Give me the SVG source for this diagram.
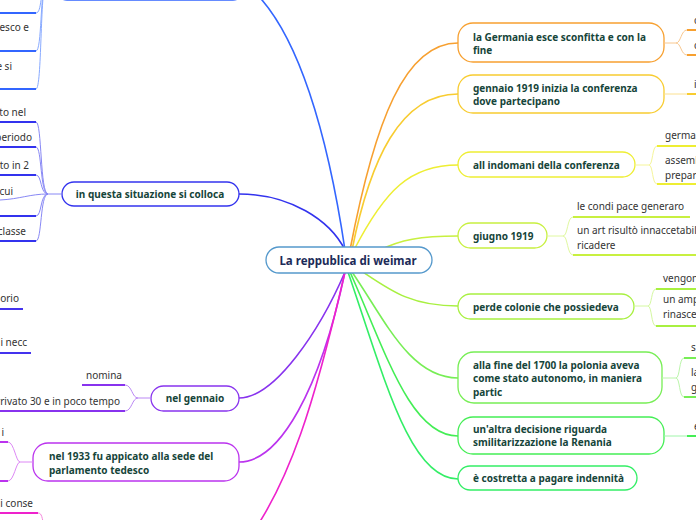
<svg xmlns="http://www.w3.org/2000/svg" width="696" height="520" viewBox="0 0 696 520">
<style>
text{font-family:"Noto Sans","Open Sans","DejaVu Sans",sans-serif}
.m{font-size:10px;font-weight:bold;fill:#16453a}
.c{font-size:10px;fill:#333}
.ct{font-size:11.5px;font-weight:bold;fill:#1c2b58}
.n{fill:#fff;stroke-width:1.3}
.cn{fill:none;stroke-width:1.6;stroke-linecap:round}
.br{fill:none;stroke-width:1}
.ul{fill:none;stroke-width:2}
</style>
<rect width="696" height="520" fill="#fff"/>
<g id="connectors">
<path class="cn" stroke="#3366ff" d="M345 250 C330 150,300 20,240 -20"/>
<path class="cn" stroke="#3333ee" d="M345 250 C330 220,290 194,239 194"/>
<path class="cn" stroke="#8833ee" d="M345 272 C320 330,275 398,239 398"/>
<path class="cn" stroke="#bb33ee" d="M345 272 C320 390,280 462,239 462"/>
<path class="cn" stroke="#ee22cc" d="M345 272 C320 380,290 500,230 560"/>
<path class="cn" stroke="#f7a030" d="M350 250 C375 120,405 43,458 43"/>
<path class="cn" stroke="#f8cc30" d="M352 250 C370 160,400 94,458 94"/>
<path class="cn" stroke="#eeee33" d="M354 250 C385 190,410 165,458 165"/>
<path class="cn" stroke="#c8f040" d="M380 250 C400 240,420 236,458 236"/>
<path class="cn" stroke="#a8f040" d="M360 270 C390 290,410 306,458 306"/>
<path class="cn" stroke="#77ee55" d="M352 272 C385 320,410 378,458 378"/>
<path class="cn" stroke="#44ee55" d="M350 272 C385 350,410 436,458 436"/>
<path class="cn" stroke="#33ee66" d="M348 272 C385 380,410 479,458 479"/>
</g>
<g id="center">
<rect class="n" x="266" y="247" width="166" height="26" rx="13" stroke="#5599cc"/>
<text class="ct" x="348" y="265" text-anchor="middle">La reppublica di weimar</text>
</g>
<g id="n-top">
<rect class="n" x="55" y="-40" width="190" height="40" rx="12" stroke="#3366ff"/>
<path class="br" stroke="#88aaff" d="M36 13 C42 13,40 -10,46 -20 M36 51 C42 51,40 -10,46 -20 M36 89 C42 89,40 -10,46 -20"/>
<path class="ul" stroke="#3366ff" d="M0 13 H36 M0 51 H36 M0 89 H36"/>
<text class="c" x="29" y="31" text-anchor="end">esco e</text>
<text class="c" x="12" y="70" text-anchor="end">e si</text>
</g>
<g id="n-situazione">
<rect class="n" x="62" y="182" width="177" height="24" rx="12" stroke="#3333ee"/>
<text class="m" x="150" y="198" text-anchor="middle">in questa situazione si colloca</text>
<path class="br" stroke="#8888f5" d="M62 194 H48 M48 194 C40 194,42 122,36 122 M48 194 C40 194,42 147,36 147 M48 194 C40 194,42 175,36 175 M48 194 C30 194,20 199,0 200 M48 194 C40 194,42 216,36 216 M48 194 C40 194,42 241,36 241"/>
<path class="ul" stroke="#3333ee" d="M0 122 H36 M0 147 H36 M0 175 H36 M0 216 H36 M0 241 H36"/>
<text class="c" x="26" y="116" text-anchor="end">to nel</text>
<text class="c" x="32" y="141" text-anchor="end">periodo</text>
<text class="c" x="29" y="169" text-anchor="end">to in 2</text>
<text class="c" x="13" y="195" text-anchor="end">cui</text>
<text class="c" x="26" y="235" text-anchor="end">classe</text>
</g>
<g id="n-left-mid">
<path class="ul" stroke="#4433ee" d="M0 309 H23 M0 353 H31"/>
<text class="c" x="19" y="302" text-anchor="end">orio</text>
<text class="c" x="27" y="346" text-anchor="end">i necc</text>
</g>
<g id="n-gennaio">
<rect class="n" x="151" y="386" width="88" height="25" rx="12.5" stroke="#8833ee"/>
<text class="m" x="195" y="402" text-anchor="middle">nel gennaio</text>
<path class="br" stroke="#bb88f5" d="M151 398 H138 M138 398 C132 398,132 385,125 385 M138 398 C132 398,132 411,125 411"/>
<path class="ul" stroke="#8833ee" d="M82 385 H125 M0 411 H125"/>
<text class="c" x="86" y="379">nomina</text>
<text class="c" x="120" y="405" text-anchor="end">rrivato 30 e in poco tempo</text>
</g>
<g id="n-1933">
<rect class="n" x="33" y="443" width="206" height="38" rx="15" stroke="#bb33ee"/>
<text class="m" x="49" y="460">nel 1933 fu appicato alla sede del</text>
<text class="m" x="49" y="474">parlamento tedesco</text>
<path class="br" stroke="#dd88f5" d="M33 462 H20 M20 462 C16 462,14 442,8 442 M20 462 C16 462,14 481,8 481"/>
<path class="ul" stroke="#bb33ee" d="M0 442 H8 M0 481 H8"/>
<text class="c" x="4" y="436" text-anchor="end">i</text>
</g>
<g id="n-bottom">
<path class="br" stroke="#f588dd" d="M38 513 C42 513,42 518,44 526"/>
<path class="ul" stroke="#ee22cc" d="M0 513 H38"/>
<text class="c" x="33" y="507" text-anchor="end">i conse</text>
</g>
<g id="n-germania">
<rect class="n" x="458" y="23" width="206" height="39" rx="15" stroke="#f7a030"/>
<text class="m" x="473" y="40.5">la Germania esce sconfitta e con la</text>
<text class="m" x="473" y="53.5">fine</text>
<path class="br" stroke="#f8c890" d="M664 43 H676 M676 43 C681 43,681 30,687 30 M676 43 C681 43,681 55,687 55"/>
<path class="ul" stroke="#f7a030" d="M687 30 H700 M687 55 H700"/>
<text class="c" x="694" y="24">c</text>
<text class="c" x="694" y="49">c</text>
</g>
<g id="n-conferenza">
<rect class="n" x="458" y="75" width="206" height="38" rx="15" stroke="#f8cc30"/>
<text class="m" x="473" y="91.5">gennaio 1919 inizia la conferenza</text>
<text class="m" x="473" y="104.5">dove partecipano</text>
<path class="br" stroke="#fbe090" d="M664 94 H687"/>
<path class="ul" stroke="#f8cc30" d="M687 94 H700"/>
<text class="c" x="694" y="88">i</text>
</g>
<g id="n-indomani">
<rect class="n" x="458" y="152" width="177" height="25" rx="12.5" stroke="#eeee33"/>
<text class="m" x="473" y="168.5">all indomani della conferenza</text>
<path class="br" stroke="#f5f59a" d="M635 165 H649 M649 165 C653 165,652 146,657 146 M649 165 C653 165,652 184,657 184"/>
<path class="ul" stroke="#eeee33" d="M657 146 H700 M657 184 H700"/>
<text class="c" x="665" y="139">germania</text>
<text class="c" x="665" y="164">assemblea</text>
<text class="c" x="665" y="179">preparare</text>
</g>
<g id="n-giugno">
<rect class="n" x="458" y="223" width="89" height="25" rx="12.5" stroke="#c8f040"/>
<text class="m" x="473" y="239.5">giugno 1919</text>
<path class="br" stroke="#e0f8a0" d="M547 236 H563 M563 236 C568 236,567 217,573 217 M563 236 C568 236,567 255,573 255"/>
<path class="ul" stroke="#c8f040" d="M573 217 H690 M573 255 H700"/>
<text class="c" x="577" y="210">le condi pace generaro</text>
<text class="c" x="577" y="234">un art risultò innaccetabile</text>
<text class="c" x="577" y="249">ricadere</text>
</g>
<g id="n-colonie">
<rect class="n" x="458" y="294" width="176" height="25" rx="12.5" stroke="#a8f040"/>
<text class="m" x="473" y="310.5">perde colonie che possiedeva</text>
<path class="br" stroke="#d4f8a0" d="M634 306 H648 M648 306 C652 306,651 289,656 289 M648 306 C652 306,651 326,656 326"/>
<path class="ul" stroke="#a8f040" d="M656 289 H700 M656 326 H700"/>
<text class="c" x="663" y="282">vengono</text>
<text class="c" x="663" y="303">un ampio</text>
<text class="c" x="663" y="318">rinascere</text>
</g>
<g id="n-polonia">
<rect class="n" x="458" y="352" width="204" height="51" rx="16" stroke="#77ee55"/>
<text class="m" x="473" y="369">alla fine del 1700 la polonia aveva</text>
<text class="m" x="473" y="382">come stato autonomo, in maniera</text>
<text class="m" x="473" y="395.5">partic</text>
<path class="br" stroke="#bbf5aa" d="M662 378 H676 M676 378 C680 378,679 358,684 358 M676 378 C680 378,679 397,684 397"/>
<path class="ul" stroke="#77ee55" d="M684 358 H700 M684 397 H700"/>
<text class="c" x="691" y="351">s</text>
<text class="c" x="691" y="376">la</text>
<text class="c" x="691" y="391">g</text>
</g>
<g id="n-renania">
<rect class="n" x="458" y="417" width="206" height="37" rx="15" stroke="#44ee55"/>
<text class="m" x="473" y="433">un'altra decisione riguarda</text>
<text class="m" x="473" y="446">smilitarizzazione la Renania</text>
<path class="br" stroke="#a0f5aa" d="M664 436 H687"/>
<path class="ul" stroke="#44ee55" d="M687 436 H700"/>
<text class="c" x="694" y="430">e</text>
</g>
<g id="n-indennita">
<rect class="n" x="458" y="466" width="179" height="24" rx="12" stroke="#33ee66"/>
<text class="m" x="473" y="482">è costretta a pagare indennità</text>
</g>
</svg>
